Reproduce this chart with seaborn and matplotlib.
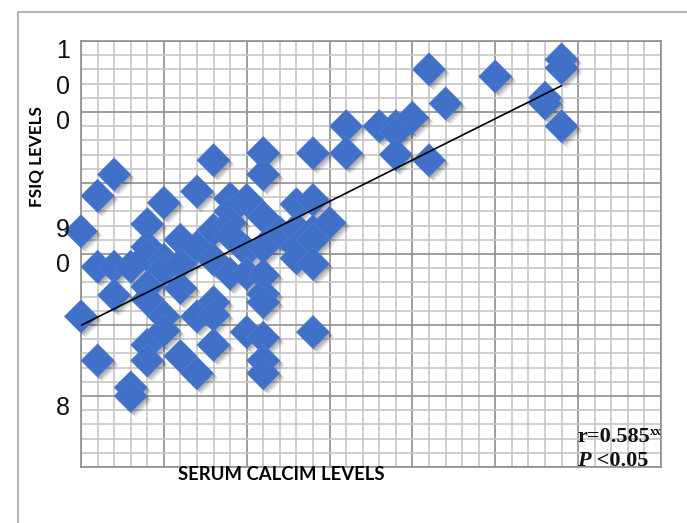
import matplotlib
matplotlib.use("Agg")
import matplotlib.pyplot as plt
import matplotlib.patheffects as pe
from matplotlib.ticker import MultipleLocator, NullFormatter
from matplotlib.lines import Line2D
import seaborn as sns
import pandas as pd

# Serum calcium (x) and full-scale IQ (y) per subject
serum_calcium = [
    8.0, 8.0,
    8.1, 8.1, 8.1,
    8.2, 8.2, 8.2,
    8.3, 8.3, 8.3,
    8.4, 8.4, 8.4, 8.4, 8.4, 8.4, 8.4,
    8.5, 8.5, 8.5, 8.5, 8.5,
    8.6, 8.6, 8.6, 8.6,
    8.7, 8.7, 8.7, 8.7,
    8.8, 8.8, 8.8, 8.8, 8.8, 8.8,
    8.9, 8.9, 8.9, 8.9, 8.9,
    9.0, 9.0, 9.0, 9.0,
    9.1, 9.1, 9.1, 9.1, 9.1, 9.1, 9.1, 9.1, 9.1, 9.1,
    9.2,
    9.3, 9.3, 9.3, 9.3,
    9.4, 9.4, 9.4, 9.4, 9.4, 9.4,
    9.5,
    9.6, 9.6,
    9.8,
    9.9, 9.9, 9.9,
    10.0,
    10.1, 10.1,
    10.2,
    10.5,
    10.8, 10.8,
    10.9, 10.9, 10.9,
]
fsiq = [
    91.6, 85.6,
    94.1, 89.1, 82.5,
    95.6, 89.1, 87.1,
    89.1, 80.6, 80.0,
    92.1, 90.5, 89.9, 87.7, 86.8, 83.6, 82.5,
    93.6, 89.6, 88.9, 85.6, 84.6,
    91.0, 89.3, 87.6, 82.8,
    94.4, 90.5, 85.6, 81.6,
    96.6, 91.7, 89.6, 86.6, 85.7, 83.6,
    93.9, 93.0, 92.2, 91.3, 88.6,
    93.8, 90.2, 88.6, 84.5,
    97.1, 95.6, 92.6, 90.5, 88.5, 87.2, 86.6, 84.1, 82.5, 81.6,
    91.5,
    93.5, 91.8, 90.5, 89.7,
    97.1, 93.8, 91.6, 91.0, 89.3, 84.5,
    92.2,
    99.0, 97.1,
    99.0,
    99.0, 98.6, 97.0,
    99.6,
    103.0, 96.6,
    100.6,
    102.5,
    101.0, 100.6,
    103.7, 103.1, 99.0,
]

# Axis labels as they are printed (narrow label boxes wrap the digits)
ytick_labels = ["1\n0\n0", "9\n0", "8"]
x_title = "SERUM CALCIM LEVELS"
y_title = "FSIQ LEVELS"
r_text = "r=0.585"
r_mark = "xx"
p_symbol = "P"
p_text = " <0.05"

df = pd.DataFrame({"calcium": serum_calcium, "fsiq": fsiq})

sns.set_style("white")
plt.rcParams["font.family"] = ["Liberation Sans", "DejaVu Sans"]

W, H = 687, 523
fig = plt.figure(figsize=(W / 100, H / 100), dpi=100)


def fx(px):
    return px / W


def fy(py):
    return 1 - py / H


# outer chart frame (top and left edges)
frame_kw = dict(color="#a9a9a9", lw=1.2, transform=fig.transFigure)
fig.add_artist(Line2D([fx(18), 1.0], [fy(12), fy(12)], **frame_kw))
fig.add_artist(Line2D([fx(18), fx(18)], [fy(12), 0.0], **frame_kw))

ax = fig.add_axes([fx(81), fy(467), fx(661) - fx(81), fy(41) - fy(467)])

shadow = [
    pe.SimplePatchShadow(offset=(1.5, -1.5), shadow_rgbFace="black", alpha=0.12),
    pe.SimplePatchShadow(offset=(2.5, -2.5), shadow_rgbFace="black", alpha=0.12),
    pe.SimplePatchShadow(offset=(3.5, -3.5), shadow_rgbFace="black", alpha=0.08),
    pe.Normal(),
]

sns.scatterplot(
    data=df, x="calcium", y="fsiq", ax=ax,
    marker="D", s=280, color="#4170c8", edgecolor="#4b7acf", linewidth=0.6,
    path_effects=shadow, zorder=3, legend=False, clip_on=False,
)
sns.regplot(
    data=df, x="calcium", y="fsiq", ax=ax, scatter=False, ci=None,
    line_kws=dict(color="black", lw=1.2, zorder=4),
)

ax.set_xlim(8.0, 11.5)
ax.set_ylim(75, 105)
ax.xaxis.set_major_locator(MultipleLocator(0.5))
ax.xaxis.set_minor_locator(MultipleLocator(0.1))
ax.yaxis.set_major_locator(MultipleLocator(5))
ax.yaxis.set_minor_locator(MultipleLocator(1))
for axis in (ax.xaxis, ax.yaxis):
    axis.set_major_formatter(NullFormatter())
    axis.set_minor_formatter(NullFormatter())
ax.tick_params(which="both", length=0)
ax.set_axisbelow(True)
ax.grid(which="minor", color="#c6c6c6", lw=1.2)
ax.grid(which="major", color="#8f8f8f", lw=1.2)
for sp in ax.spines.values():
    sp.set_color("#8f8f8f")
    sp.set_linewidth(1.2)
ax.set_xlabel("")
ax.set_ylabel("")

# stacked y-axis labels, one character per row
row_step = 35.5
for lbl, py in zip(ytick_labels, [51, 230, 408]):
    for k, ch in enumerate(lbl.split("\n")):
        fig.text(fx(63), fy(py + k * row_step), ch, ha="center", va="center",
                 fontsize=18, color="#111111", family="Liberation Sans")

fig.text(fx(281), fy(474), x_title, ha="center", va="center", fontsize=13.3,
         fontweight="bold", family="Lato", color="black")
fig.text(fx(36), fy(157), y_title, ha="center", va="center", rotation=90,
         fontsize=12.3, fontweight="bold", family="Lato", color="black")

# correlation annotation
rt = fig.text(fx(577), fy(437), r_text, ha="left", va="center", fontsize=16,
              fontweight="bold", family="Liberation Serif", color="#111111")
ax.annotate(r_mark, xy=(1, 1), xycoords=rt, xytext=(0.5, 0.5), textcoords="offset points",
            ha="left", va="top", fontsize=8.5, family="Liberation Serif",
            fontweight="bold", color="#111111", annotation_clip=False)
pt = fig.text(fx(577), fy(461), p_symbol, ha="left", va="center", fontsize=16,
              fontweight="bold", fontstyle="italic", family="Liberation Serif",
              color="#111111")
ax.annotate(p_text, xy=(1, 0), xycoords=pt, ha="left", va="bottom", fontsize=16,
            fontweight="bold", family="Liberation Serif", color="#111111",
            annotation_clip=False)

fig.savefig("out.png", dpi=100)
